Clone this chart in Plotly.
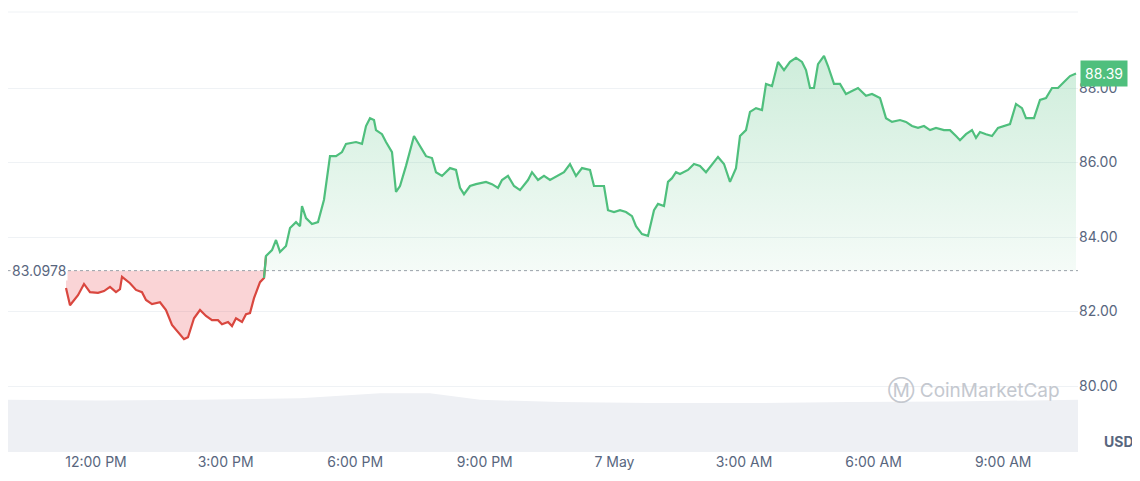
import plotly.graph_objects as go
import pandas as pd

BASE = 83.0978
T0 = pd.Timestamp("2024-05-06 12:00")
# time offsets (in 1/43.2 hour units from noon) and prices
pos = [66,70,78,84,90,98,104,110,116,120,122,130,136,142,146,152,160,166,172,178,184,188,194,200,206,212,218,222,228,232,236,242,246,250,254,260,264,
       266,272,276,280,286,290,296,300,302,306,312,318,324,330,336,342,346,356,362,366,370,374,376,382,386,392,396,400,406,414,420,426,432,436,442,450,456,460,464,470,476,486,492,498,502,508,514,520,528,532,538,544,550,558,564,570,576,582,590,594,604,608,614,620,626,632,636,642,648,654,658,664,668,672,676,680,688,694,700,706,712,718,724,730,736,740,746,750,756,762,766,772,778,784,790,796,802,806,810,814,818,824,828,834,840,846,850,858,866,872,880,886,892,900,906,912,918,924,930,936,944,950,956,960,966,972,976,980,986,992,998,1004,1010,1016,1022,1026,1034,1040,1046,1052,1058,1064,1070,1076]
price = [82.63,82.17,82.44,82.74,82.52,82.50,82.55,82.66,82.52,82.60,82.93,82.76,82.58,82.52,82.31,82.20,82.25,82.04,81.64,81.45,81.26,81.31,81.82,82.04,81.88,81.77,81.77,81.66,81.72,81.61,81.82,81.72,81.93,81.96,82.36,82.79,82.90,
         83.49,83.65,83.92,83.60,83.76,84.24,84.40,84.29,84.83,84.51,84.35,84.40,85.00,86.17,86.17,86.28,86.50,86.55,86.50,86.98,87.19,87.14,86.87,86.76,86.55,86.28,85.21,85.37,85.91,86.71,86.44,86.17,86.12,85.74,85.64,85.85,85.80,85.32,85.15,85.37,85.42,85.48,85.42,85.32,85.53,85.64,85.37,85.26,85.53,85.74,85.53,85.64,85.53,85.64,85.74,85.96,85.64,85.85,85.80,85.37,85.37,84.72,84.67,84.72,84.67,84.56,84.29,84.08,84.03,84.72,84.89,84.83,85.48,85.58,85.74,85.69,85.80,85.96,85.91,85.74,85.96,86.15,85.96,85.48,85.85,86.71,86.87,87.36,87.46,87.41,88.11,88.05,88.70,88.48,88.70,88.81,88.70,88.48,88.00,88.00,88.64,88.86,88.59,88.11,88.11,87.84,87.89,88.00,87.79,87.84,87.73,87.19,87.09,87.14,87.09,86.98,86.93,86.98,86.87,86.93,86.87,86.87,86.71,86.60,86.76,86.87,86.66,86.82,86.76,86.71,86.93,86.98,87.03,87.57,87.46,87.19,87.19,87.68,87.73,88.00,88.00,88.16,88.32,88.39]
times = [T0 + pd.Timedelta(hours=(p - 96) / 43.2) for p in pos]
vol_pos = [8, 100, 200, 300, 380, 430, 480, 560, 650, 750, 850, 950, 1078]
vol = [0.96, 0.95, 0.96, 0.99, 1.08, 1.08, 0.96, 0.92, 0.90, 0.90, 0.92, 0.93, 0.96]
vol_t = [T0 + pd.Timedelta(hours=(p - 96) / 43.2) for p in vol_pos]

split = next(i for i, v in enumerate(price) if v > BASE)
GREEN, RED = "#4fbf7d", "#d9473f"
fig = go.Figure()
fig.add_trace(go.Scatter(x=vol_t, y=vol, yaxis="y2", fill="tozeroy", mode="lines",
                         line=dict(width=0, color="#eef0f4"), fillcolor="#eef0f4", hoverinfo="skip"))
rt, rv = times[:split + 1], price[:split + 1]
fig.add_trace(go.Scatter(x=rt, y=[BASE] * len(rt), mode="lines", line=dict(width=0), hoverinfo="skip"))
fig.add_trace(go.Scatter(x=rt, y=rv, mode="lines", fill="tonexty", fillcolor="rgba(234,57,67,0.22)",
                         line=dict(color=RED, width=2.2)))
gt, gv = times[split - 1:], price[split - 1:]
fig.add_trace(go.Scatter(x=gt, y=[BASE] * len(gt), mode="lines", line=dict(width=0), hoverinfo="skip"))
fig.add_trace(go.Scatter(x=gt, y=gv, mode="lines", fill="tonexty", fillgradient=dict(type="vertical",
                         colorscale=[[0, "rgba(79,191,125,0.05)"], [1, "rgba(79,191,125,0.28)"]]),
                         line=dict(color=GREEN, width=2.2)))
fig.add_hline(y=BASE, line=dict(color="#9aa0a8", width=1, dash="dot"))

xl = [T0 + pd.Timedelta(hours=h) for h in (-88 / 43.2, (1078 - 96) / 43.2)]
ticks = [T0 + pd.Timedelta(hours=3 * k) for k in range(8)]
fig.update_layout(
    width=1124, height=465, margin=dict(l=0, r=54, t=4, b=21),
    paper_bgcolor="white", plot_bgcolor="white", showlegend=False,
    font=dict(family="Inter, sans-serif", color="#58667e", size=14),
    xaxis=dict(range=xl, tickvals=ticks,
               ticktext=["12:00 PM", "3:00 PM", "6:00 PM", "9:00 PM", "7 May", "3:00 AM", "6:00 AM", "9:00 AM"],
               showgrid=False, showline=False, zeroline=False, ticks=""),
    yaxis=dict(side="right", range=[78.23, 90.04], tickvals=[80, 82, 84, 86, 88],
               ticktext=["80.00", "82.00", "84.00", "86.00", "88.00"], gridcolor="#eff2f5",
               zeroline=False, showline=False, domain=[0, 1]),
    yaxis2=dict(overlaying="y", range=[0, 8.1], visible=False),
    shapes=[dict(type="line", xref="paper", yref="paper", x0=1, x1=1, y0=0, y1=1, line=dict(color="#eff2f5", width=1)),
            dict(type="line", xref="paper", yref="paper", x0=0, x1=1, y0=1, y1=1, line=dict(color="#eff2f5", width=1))],
    annotations=[
        dict(x=1.002, y=price[-1], xref="paper", yref="y", xanchor="left", text="88.39", showarrow=False,
             bgcolor=GREEN, font=dict(color="white", size=14), borderpad=4),
        dict(x=1.038, y=0.0, xref="paper", yref="paper", xanchor="center", yanchor="bottom", text="<b>USD</b>",
             showarrow=False, font=dict(size=14, color="#58667e")),
        dict(x=0.002, y=BASE, xref="paper", yref="y", xanchor="left", text="83.0978", showarrow=False,
             bgcolor="white", font=dict(size=14, color="#58667e")),
        dict(x=0.985, y=79.9, xref="paper", yref="y", xanchor="right", text="Ⓜ CoinMarketCap", showarrow=False,
             font=dict(size=19, color="#c4c8cf")),
    ],
)
fig.write_html("out.html")
